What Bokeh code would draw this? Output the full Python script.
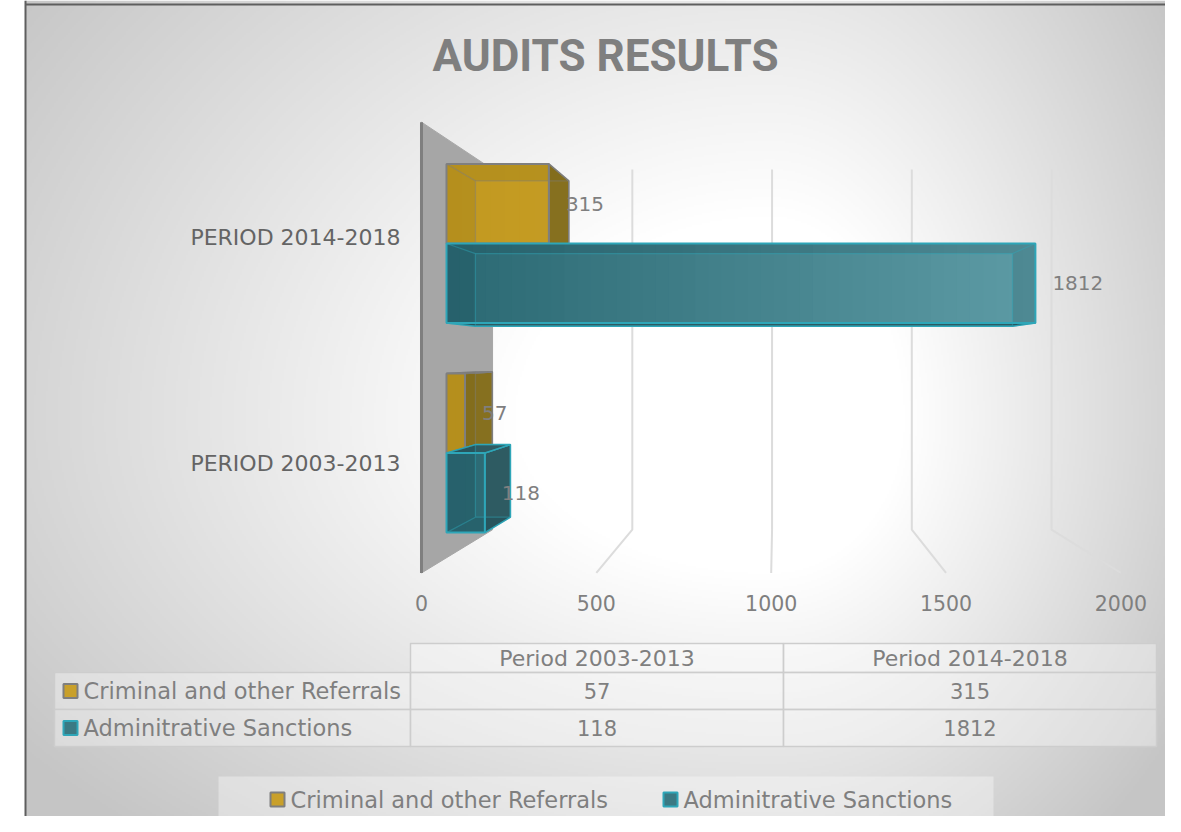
import numpy as np
from bokeh.plotting import figure
from bokeh.models import Range1d
from bokeh.embed import file_html
from bokeh.resources import INLINE
from bokeh.core.properties import value

# ---------------- data ----------------
chart_title = "AUDITS RESULTS"
categories = ["PERIOD 2003-2013", "PERIOD 2014-2018"]          # bottom -> top
table_columns = ["Period 2003-2013", "Period 2014-2018"]
series_names = ["Criminal and other Referrals", "Adminitrative Sanctions"]
criminal_referrals = [57, 315]
administrative_sanctions = [118, 1812]
axis_ticks = [0, 500, 1000, 1500, 2000]

# ---------------- style ----------------
FONT = "DejaVu Sans"
TITLE_FONT = "Roboto"
SERIES = [
    dict(values=criminal_referrals, name=series_names[0],
         front=("#c29920", "#d3aa34"), shade="#86701f", hidden="#7a6210",
         line="#7f7f7f", swatch="#c9a02a", slot=+1),
    dict(values=administrative_sanctions, name=series_names[1],
         front=("#2b6973", "#62a0aa"), shade="#2e5b62", hidden="#123f47",
         line="#2ea6b8", swatch="#3b7983", slot=-1),
]

# ---------------- geometry (picture pixels) ----------------
W, H = 1165, 816
OFF = 0                   # picture pixel of the figure's left/top edge
PX_PER_UNIT = 0.325       # front plane: pixels per value unit
ORIGIN_X = 446            # picture x of value 0 on front plane
CAT_PX = 209.5            # pixels between categories
CAT0_Y = 452.5            # picture y of first category centre
VP_X, VP_Y = 775, 357     # vanishing point
K_BAR_BACK = 0.912
K_WALL_BACK = 0.86
K_FLOOR = 1.076
BAR_H = 0.38

x0 = (OFF - ORIGIN_X) / PX_PER_UNIT
x1 = (OFF + W - ORIGIN_X) / PX_PER_UNIT
y1 = (CAT0_Y - OFF) / CAT_PX
y0 = (CAT0_Y - (OFF + H)) / CAT_PX
VP_V = (VP_X - ORIGIN_X) / PX_PER_UNIT
VP_C = (CAT0_Y - VP_Y) / CAT_PX


def proj(v, c, k):
    return VP_V + (v - VP_V) * k, VP_C + (c - VP_C) * k


def poly(pts):
    return [p[0] for p in pts], [p[1] for p in pts]


def lerp_hex(a, b, t):
    a = [int(a[i:i + 2], 16) for i in (1, 3, 5)]
    b = [int(b[i:i + 2], 16) for i in (1, 3, 5)]
    return "#%02x%02x%02x" % tuple(int(round(a[i] + (b[i] - a[i]) * t)) for i in range(3))


p = figure(width=W, height=H, x_range=Range1d(x0, x1), y_range=Range1d(y0, y1),
           output_backend="svg", toolbar_location=None,
           x_axis_type=None, y_axis_type=None, min_border=0,
           outline_line_color=None, background_fill_color="white",
           border_fill_color="white")
p.title.visible = False
p.grid.visible = False
p.extra_x_ranges = {"px": Range1d(OFF, OFF + W)}
p.extra_y_ranges = {"py": Range1d(OFF + H, OFF), "bgy": Range1d(0, H)}

# ---------------- background gradient ----------------
ih, iw = 408, 570
ys_w = (OFF + H) - (np.arange(ih) + 0.5) * (H / ih)
xs_w = 25 + (np.arange(iw) + 0.5) * ((OFF + W - 25) / iw)
GX, GY = np.meshgrid(xs_w, ys_w)
dx = np.where(GX < 770, (GX - 770) / 800.0, (GX - 770) / 420.0)
dy = np.where(GY < 420, (GY - 420) / 640.0, (GY - 420) / 480.0)
tt = np.sqrt(dx ** 2 + dy ** 2)
g = (255 - 58 * np.clip((tt - 0.32) / 0.85, 0, 1)).astype(np.uint8)
rgba = np.ascontiguousarray(np.dstack([g, g, g, np.full_like(g, 255)]))
img = rgba.view(np.uint32).reshape(ih, iw)
p.image_rgba(image=[img], x=25, y=0, dw=OFF + W - 25, dh=H,
             x_range_name="px", y_range_name="bgy")

# chart border
p.line(x=[25, 25], y=[OFF, OFF + H], line_color="#5e5e5e", line_width=2,
       x_range_name="px", y_range_name="py")
p.line(x=[25, OFF + W], y=[4, 4], line_color="#5e5e5e", line_width=2,
       x_range_name="px", y_range_name="py")

# ---------------- title ----------------
p.text(x=[605], y=[55], text=[chart_title], x_range_name="px", y_range_name="py",
       text_font=value(TITLE_FONT), text_font_style="bold", text_font_size="44px",
       text_color="#7f7f7f", text_align="center", text_baseline="middle")

# ---------------- walls & gridlines ----------------
c_lo, c_hi = -0.5, len(categories) - 0.5
wall = [proj(0, c_hi, K_FLOOR), proj(0, c_hi, K_WALL_BACK),
        proj(0, c_lo, K_WALL_BACK), proj(0, c_lo, K_FLOOR)]
wx, wy = poly(wall)
p.patch(wx, wy, fill_color="#a6a6a6", line_color="#a6a6a6", line_width=1)
ex, ey = poly([proj(0, c_hi, K_FLOOR), proj(0, c_lo, K_FLOOR)])
p.line(ex, ey, line_color="#7f7f7f", line_width=3)

gxs, gys = [], []
for v in axis_ticks[1:]:
    a, b = poly([proj(v, c_hi, K_WALL_BACK), proj(v, c_lo, K_WALL_BACK), proj(v, c_lo, K_FLOOR)])
    gxs.append(a)
    gys.append(b)
p.multi_line(gxs, gys, line_color="#dcdcdc", line_width=2)

# axis tick labels on floor front
tx, ty = [], []
for v in axis_ticks:
    a, b = proj(v, c_lo, K_FLOOR)
    tx.append(a)
    ty.append(b)
p.text(x=tx, y=ty, text=[str(v) for v in axis_ticks], y_offset=30,
       text_font=value(FONT), text_font_size="20.5px", text_color="#7f7f7f",
       text_align="center", text_baseline="middle")

# category labels
cx, cy = [], []
for i in range(len(categories)):
    a, b = proj(0, i, K_FLOOR)
    cx.append(a)
    cy.append(b)
p.text(x=cx, y=cy, text=categories, x_offset=-21, y_offset=3,
       text_font=value(FONT), text_font_size="22px", text_color="#646464",
       text_align="right", text_baseline="middle")

# ---------------- 3D bars ----------------
label_x, label_y, label_t = [], [], []
for i in range(len(categories)):
    for s in SERIES:
        v = s["values"][i]
        if s["slot"] > 0:
            cb, ct = i, i + BAR_H
        else:
            cb, ct = i - BAR_H, i
        F = dict(lb=proj(0, cb, 1), rb=proj(v, cb, 1), rt=proj(v, ct, 1), lt=proj(0, ct, 1))
        B = dict(lb=proj(0, cb, K_BAR_BACK), rb=proj(v, cb, K_BAR_BACK),
                 rt=proj(v, ct, K_BAR_BACK), lt=proj(0, ct, K_BAR_BACK))
        faces = {
            "right": ([F["rb"], B["rb"], B["rt"], F["rt"]], v < VP_V),
            "left": ([F["lb"], B["lb"], B["lt"], F["lt"]], 0 > VP_V),
            "top": ([F["lt"], F["rt"], B["rt"], B["lt"]], ct < VP_C),
            "bottom": ([F["lb"], F["rb"], B["rb"], B["lb"]], cb > VP_C),
        }
        out_x, out_y, hid_x, hid_y = [], [], [], []
        for name, (pts, outside) in faces.items():
            a, b = poly(pts)
            if outside:
                out_x.append(a)
                out_y.append(b)
            else:
                hid_x.append(a)
                hid_y.append(b)
        if out_x:
            p.patches(out_x, out_y, fill_color=s["shade"], line_color=s["line"], line_width=1.5)
        # front face with lighting gradient (overlapping slices: no seams)
        n = max(2, int(v / 40))
        edges = np.linspace(0, v, n + 1)
        mids = (edges[:-1] + edges[1:]) / 2
        cols = [lerp_hex(s["front"][0], s["front"][1], min(1.0, m / axis_ticks[-1])) for m in mids]
        p.quad(left=edges[:-1], right=[v] * n, bottom=cb, top=ct,
               fill_color=cols, line_color=None)
        if hid_x:
            p.patches(hid_x, hid_y, fill_color=s["hidden"], fill_alpha=0.18, line_color=None)
        # back edges and connecting diagonals (seen through the glass)
        bx, by = [], []
        ring = ["lb", "rb", "rt", "lt", "lb"]
        a, b = poly([B[k] for k in ring])
        bx.append(a)
        by.append(b)
        for k in ["lb", "rb", "rt", "lt"]:
            a, b = poly([F[k], B[k]])
            bx.append(a)
            by.append(b)
        p.multi_line(bx, by, line_color=s["line"], line_alpha=0.45, line_width=1.3)
        p.quad(left=[0], right=[v], bottom=[cb], top=[ct], fill_color=None,
               line_color=s["line"], line_width=2)
        label_x.append(v)
        label_y.append((cb + ct) / 2)
        label_t.append(str(v))

p.text(x=label_x, y=label_y, text=label_t, x_offset=17,
       text_font=value(FONT), text_font_size="20px", text_color="#7f7f7f",
       text_align="left", text_baseline="middle")

# ---------------- data table ----------------
COLS = [(54, 410), (410, 783), (783, 1156)]
ROWS = [(643, 672), (672, 709), (709, 746)]
ql, qr, qt, qb = [], [], [], []
for ri, (ya, yb) in enumerate(ROWS):
    for ci, (xa, xb) in enumerate(COLS):
        if ri == 0 and ci == 0:
            continue
        ql.append(xa)
        qr.append(xb)
        qt.append(ya)
        qb.append(yb)
p.quad(left=ql, right=qr, top=qt, bottom=qb, fill_color="white", fill_alpha=0.35,
       line_color="#cdcdcd", line_width=1.5, x_range_name="px", y_range_name="py")

hx = [(a + b) / 2 for a, b in COLS[1:]]
hy = (ROWS[0][0] + ROWS[0][1]) / 2
p.text(x=hx, y=[hy] * len(hx), text=table_columns, x_range_name="px", y_range_name="py",
       text_font=value(FONT), text_font_size="22px", text_color="#7f7f7f",
       text_align="center", text_baseline="middle")
for si, s in enumerate(SERIES):
    ya, yb = ROWS[si + 1]
    ym = (ya + yb) / 2
    p.quad(left=[63], right=[77], top=[ym - 7], bottom=[ym + 7], fill_color=s["swatch"],
           line_color=s["line"], line_width=2, x_range_name="px", y_range_name="py")
    p.text(x=[83], y=[ym], text=[s["name"]], x_range_name="px", y_range_name="py",
           text_font=value(FONT), text_font_size="22.5px", text_color="#7f7f7f",
           text_align="left", text_baseline="middle")
    p.text(x=hx, y=[ym] * len(hx), text=[str(v) for v in s["values"]],
           x_range_name="px", y_range_name="py",
           text_font=value(FONT), text_font_size="21px", text_color="#7f7f7f",
           text_align="center", text_baseline="middle")

# ---------------- legend ----------------
p.quad(left=[218], right=[993], top=[776], bottom=[821], fill_color="white", fill_alpha=0.35,
       line_color=None, x_range_name="px", y_range_name="py")
LEG_X = [270, 663]
for s, lx in zip(SERIES, LEG_X):
    p.quad(left=[lx], right=[lx + 14], top=[792], bottom=[806], fill_color=s["swatch"],
           line_color=s["line"], line_width=2, x_range_name="px", y_range_name="py")
    p.text(x=[lx + 20], y=[799], text=[s["name"]], x_range_name="px", y_range_name="py",
           text_font=value(FONT), text_font_size="22.5px", text_color="#7f7f7f",
           text_align="left", text_baseline="middle")

open("out.html", "w").write(file_html(p, INLINE))
